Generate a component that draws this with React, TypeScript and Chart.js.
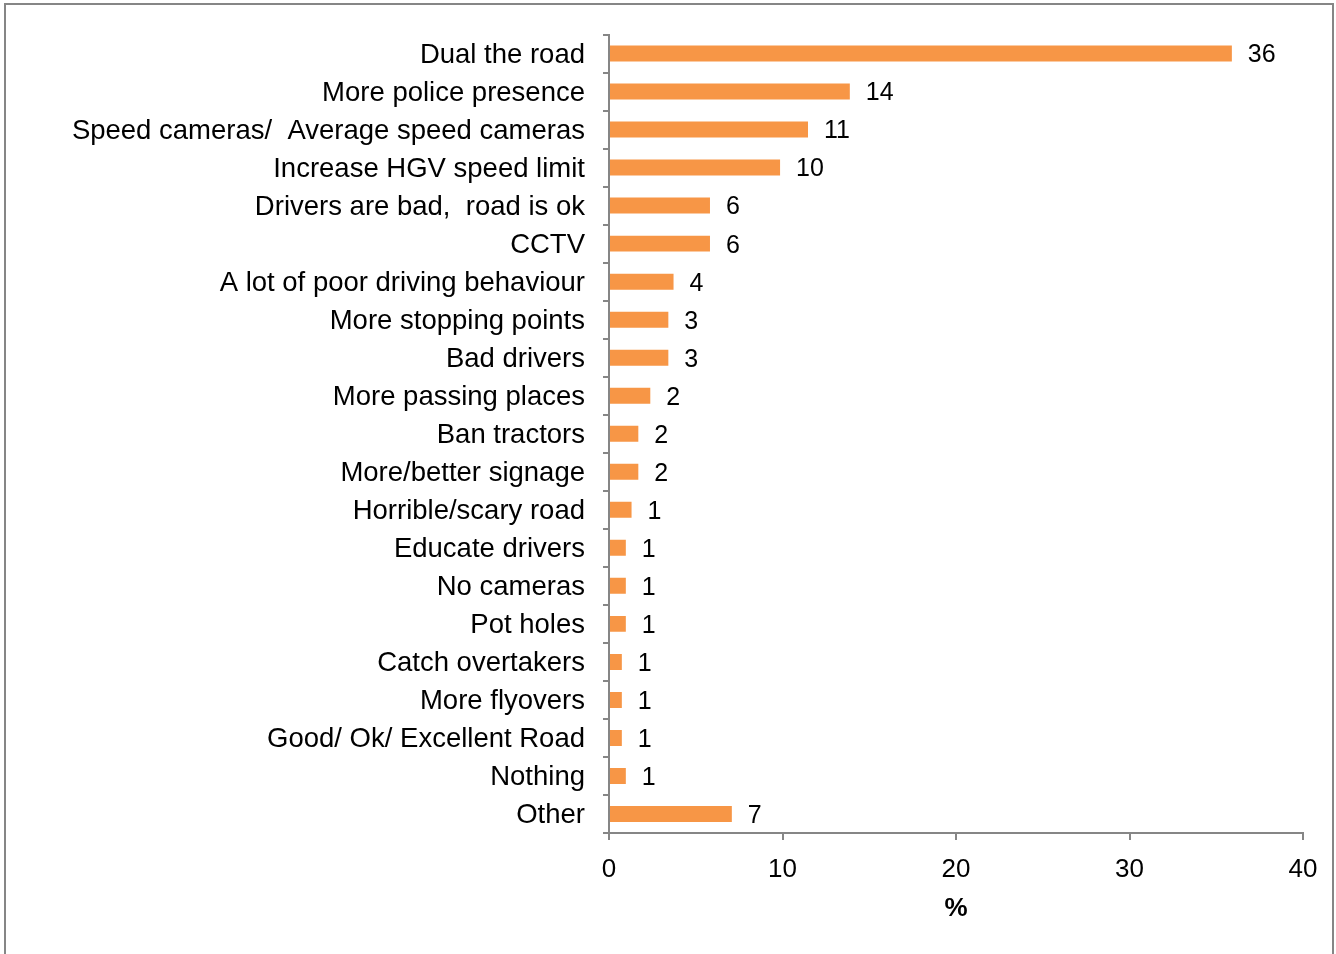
import React, { useEffect, useRef } from "react";
import { Chart, registerables } from "chart.js";

Chart.register(...registerables);

const categories: string[] = [
  "Dual the road",
  "More police presence",
  "Speed cameras/  Average speed cameras",
  "Increase HGV speed limit",
  "Drivers are bad,  road is ok",
  "CCTV",
  "A lot of poor driving behaviour",
  "More stopping points",
  "Bad drivers",
  "More passing places",
  "Ban tractors",
  "More/better signage",
  "Horrible/scary road",
  "Educate drivers",
  "No cameras",
  "Pot holes",
  "Catch overtakers",
  "More flyovers",
  "Good/ Ok/ Excellent Road",
  "Nothing",
  "Other",
];

const values: number[] = [
  35.9, 13.88, 11.47, 9.86, 5.82, 5.82, 3.72, 3.42, 3.42, 2.38, 1.69, 1.69,
  1.3, 0.97, 0.97, 0.97, 0.74, 0.74, 0.74, 0.97, 7.08,
];

const valueLabels: string[] = [
  "36", "14", "11", "10", "6", "6", "4", "3", "3", "2", "2", "2",
  "1", "1", "1", "1", "1", "1", "1", "1", "7",
];

const xTicks: number[] = [0, 10, 20, 30, 40];
const xTitle = "%";

const FONT = "'Liberation Sans', Arial, sans-serif";

const borderPlugin = {
  id: "outerBorder",
  beforeDraw(chart: any) {
    const ctx = chart.ctx;
    ctx.save();
    ctx.fillStyle = "#ffffff";
    ctx.fillRect(0, 0, chart.width, chart.height);
    ctx.strokeStyle = "#868686";
    ctx.lineWidth = 2;
    ctx.strokeRect(5, 4, 1328, 1000);
    ctx.restore();
  },
};

const valueLabelPlugin = {
  id: "valueLabels",
  afterDatasetsDraw(chart: any) {
    const ctx = chart.ctx;
    const meta = chart.getDatasetMeta(0);
    ctx.save();
    ctx.fillStyle = "#000000";
    ctx.font = `25px ${FONT}`;
    ctx.textAlign = "left";
    ctx.textBaseline = "middle";
    meta.data.forEach((bar: any, i: number) => {
      ctx.fillText(valueLabels[i], bar.x + 16, bar.y + 2);
    });
    ctx.restore();
  },
};

export default function App() {
  const ref = useRef<HTMLCanvasElement | null>(null);

  useEffect(() => {
    if (!ref.current) return;
    const chart = new Chart(ref.current, {
      type: "bar",
      data: {
        labels: categories,
        datasets: [
          {
            data: values,
            backgroundColor: "#F79646",
            borderWidth: 0,
            barPercentage: 0.42,
            categoryPercentage: 1,
          },
        ],
      },
      options: {
        indexAxis: "y",
        animation: false,
        responsive: false,
        maintainAspectRatio: false,
        layout: { padding: { top: 34, right: 33, left: 0, bottom: 0 } },
        plugins: {
          legend: { display: false },
          tooltip: { enabled: false },
        },
        scales: {
          x: {
            min: 0,
            max: 40,
            afterBuildTicks: (scale: any) => {
              scale.ticks = xTicks.map((v) => ({ value: v }));
            },
            afterFit: (scale: any) => {
              scale.height = 121;
            },
            grid: {
              drawOnChartArea: false,
              drawTicks: true,
              tickLength: 7,
              color: "#868686",
              lineWidth: 2,
            },
            border: { display: true, color: "#868686", width: 2 },
            ticks: {
              color: "#000000",
              font: { family: FONT, size: 26 },
              padding: 14,
              maxRotation: 0,
            },
            title: {
              display: true,
              text: xTitle,
              color: "#000000",
              font: { family: FONT, size: 26, weight: "bold" },
              padding: { top: 0, bottom: 30 },
            },
          },
          y: {
            afterFit: (scale: any) => {
              scale.width = 609;
            },
            grid: {
              offset: true,
              drawOnChartArea: false,
              drawTicks: true,
              tickLength: 6,
              color: "#868686",
              lineWidth: 2,
            },
            border: { display: true, color: "#868686", width: 2 },
            ticks: {
              color: "#000000",
              font: { family: FONT, size: 27.5 },
              padding: 18,
              labelOffset: 1.5,
              autoSkip: false,
            },
          },
        },
      },
      plugins: [borderPlugin, valueLabelPlugin],
    });
    return () => chart.destroy();
  }, []);

  return (
    <div style={{ position: "fixed", left: 0, top: 0, width: 1336, height: 954 }}>
      <canvas ref={ref} width={1336} height={954} style={{ display: "block" }} />
    </div>
  );
}
